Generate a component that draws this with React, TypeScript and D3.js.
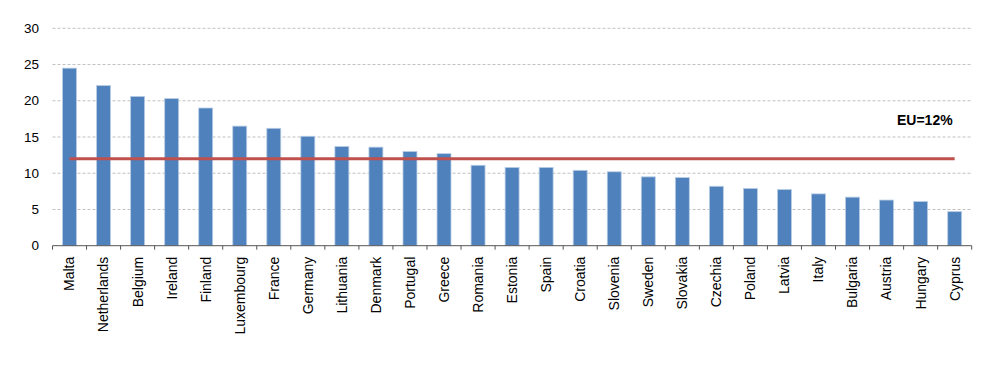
import React from "react";
import * as d3 from "d3";

const countries = ["Malta","Netherlands","Belgium","Ireland","Finland","Luxembourg","France","Germany","Lithuania","Denmark","Portugal","Greece","Romania","Estonia","Spain","Croatia","Slovenia","Sweden","Slovakia","Czechia","Poland","Latvia","Italy","Bulgaria","Austria","Hungary","Cyprus"];
const values = [24.5,22.1,20.6,20.3,19.0,16.5,16.2,15.1,13.7,13.6,13.0,12.7,11.1,10.8,10.8,10.4,10.2,9.5,9.4,8.2,7.9,7.75,7.15,6.7,6.3,6.1,4.7];
const euAverage = 12;
const euLabel = "EU=12%";
const yTicks = [0,5,10,15,20,25,30];

export default function App() {
  const left = 52.5, right = 971.7, top = 28.3, bottom = 245.7;
  const x = d3.scaleBand<string>().domain(countries).range([left, right]).paddingInner(0.59).paddingOuter(0.295);
  const y = d3.scaleLinear().domain([0, 30]).range([bottom, top]);
  const step = x.step();
  const bw = x.bandwidth();
  const center = (c: string) => (x(c) as number) + bw / 2;
  const line = d3.line<string>().x((c) => center(c)).y(() => y(euAverage));
  const font = "'Liberation Sans', Arial, sans-serif";
  return (
    <svg width={1000} height={380} style={{ position: "absolute", left: 0, top: 0, background: "#fff" }}>
      {yTicks.filter((t) => t > 0).map((t) => (
        <line key={"g" + t} x1={left} x2={right} y1={y(t)} y2={y(t)} stroke="#c0c0c0" strokeWidth={1} strokeDasharray="3,2" />
      ))}
      {yTicks.map((t) => (
        <text key={"y" + t} x={39} y={y(t)} dy="0.35em" textAnchor="end" fontFamily={font} fontSize={13.5} fill="#000">{t}</text>
      ))}
      {countries.map((c, i) => (
        <rect key={c} x={x(c)} y={y(values[i])} width={bw} height={bottom - y(values[i])} fill="#4f81bd" stroke="#b9cde5" strokeWidth={0.8} />
      ))}
      <line x1={left} x2={right} y1={bottom} y2={bottom} stroke="#555" strokeWidth={1} />
      {d3.range(countries.length + 1).map((k) => (
        <line key={"t" + k} x1={left + k * step} x2={left + k * step} y1={bottom} y2={bottom + 4} stroke="#555" strokeWidth={1} />
      ))}
      {countries.map((c) => (
        <text key={"l" + c} transform={`translate(${center(c)},${bottom + 11}) rotate(-90)`} textAnchor="end" dy="0.35em" fontFamily={font} fontSize={14} fill="#000">{c}</text>
      ))}
      <path d={line([countries[0], countries[countries.length - 1]]) || ""} stroke="#c0504d" strokeWidth={3} fill="none" />
      <text x={897} y={125} fontFamily={font} fontWeight="bold" fontSize={14} fill="#000">{euLabel}</text>
    </svg>
  );
}
